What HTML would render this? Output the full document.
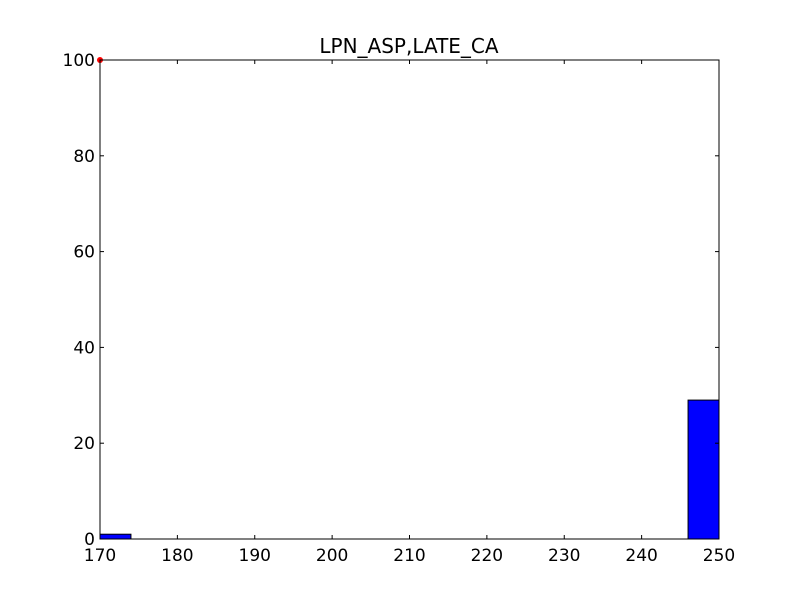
<!DOCTYPE html>
<html><head><meta charset="utf-8"><style>
body{margin:0;background:#fff;}
svg text{font-family:"DejaVu Sans","Liberation Sans",sans-serif;}
</style></head><body>
<svg id="chart" width="800" height="600">
<rect width="800" height="600" fill="#fff"/>
<text x="409" y="53" font-size="20" text-anchor="middle">LPN_ASP,LATE_CA</text>
<g id="bars"></g>
<g id="ticks"></g>
<rect x="100" y="60" width="619" height="479" fill="none" stroke="#000" stroke-width="1"/>
</svg>
<script>
const binEdges=[170,174,178,182,186,190,194,198,202,206,210,214,218,222,226,230,234,238,242,246,250];
const counts=[1,0,0,0,0,0,0,0,0,0,0,0,0,0,0,0,0,0,0,29];
const xTicks=[170,180,190,200,210,220,230,240,250];
const yTicks=[0,20,40,60,80,100];
const marker=[170,100];
const L=100,R=719,T=60,B=539;
const xs=v=>L+(v-170)/(250-170)*(R-L);
const ys=v=>B-(v-0)/(100-0)*(B-T);
const NS="http://www.w3.org/2000/svg";
const bars=document.getElementById('bars'),tk=document.getElementById('ticks');
function mk(tag,attrs,parent){const e=document.createElementNS(NS,tag);for(const k in attrs)e.setAttribute(k,attrs[k]);parent.appendChild(e);return e;}
counts.forEach((c,i)=>{
  const x0=xs(binEdges[i]),x1=xs(binEdges[i+1]);
  const r=mk('rect',{x:x0,y:ys(c),width:x1-x0,height:ys(0)-ys(c),fill:'#0000ff',stroke:'#000','stroke-width':1},bars);
  
  
});
const dot=mk('circle',{cx:xs(marker[0]),cy:ys(marker[1]),r:3,fill:'#ff0000'},bars);


xTicks.forEach(v=>{
  const x=xs(v);
  mk('line',{x1:x,x2:x,y1:B,y2:B-4,stroke:'#000'},tk);
  mk('line',{x1:x,x2:x,y1:T,y2:T+4,stroke:'#000'},tk);
  const t=mk('text',{x:x,y:B+22,'font-size':17,'text-anchor':'middle'},tk);
  t.textContent=v;
  
  
});
yTicks.forEach(v=>{
  const y=ys(v);
  mk('line',{x1:L,x2:L+4,y1:y,y2:y,stroke:'#000'},tk);
  mk('line',{x1:R,x2:R-4,y1:y,y2:y,stroke:'#000'},tk);
  const t=mk('text',{x:L-5,y:y+6,'font-size':17,'text-anchor':'end'},tk);
  t.textContent=v;
  
  
});
</script>
</body></html>
